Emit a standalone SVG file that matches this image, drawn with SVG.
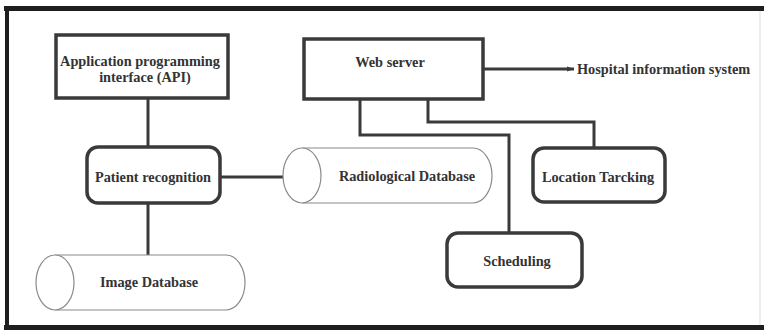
<svg xmlns="http://www.w3.org/2000/svg" width="764" height="330" viewBox="0 0 764 330">
  <defs>
    <style>
      .lbl { font-family: "Liberation Serif", "Times New Roman", serif; font-weight: bold; font-size: 14.3px; fill: #333; text-anchor: middle; }
      .box { fill: #fff; stroke: #3a3a3a; stroke-width: 3.5; }
      .rbox { fill: #fff; stroke: #3a3a3a; stroke-width: 3.5; }
      .cyl { fill: #fff; stroke: #8a8a8a; stroke-width: 1.2; }
      .wire { fill: none; stroke: #3a3a3a; stroke-width: 3; }
    </style>
    <marker id="arrowhead" markerWidth="8" markerHeight="6" refX="7" refY="3" orient="auto" markerUnits="userSpaceOnUse">
      <path d="M0,0.5 L7,3 L0,5.5 Z" fill="#3a3a3a"/>
    </marker>
  </defs>

  <!-- outer frame -->
  <rect x="0" y="0" width="764" height="330" fill="#fff"/>
  <line x1="4" y1="8.5" x2="764" y2="8.5" stroke="#1e1e1e" stroke-width="5"/>
  <line x1="7" y1="6" x2="7" y2="330" stroke="#1e1e1e" stroke-width="4"/>
  <line x1="4" y1="327.5" x2="764" y2="327.5" stroke="#1e1e1e" stroke-width="5"/>
  <line x1="760" y1="11" x2="760" y2="325" stroke="#e2e2e2" stroke-width="1.2"/>

  <!-- connectors -->
  <g id="connectors">
    <line class="wire" x1="148" y1="98" x2="148" y2="146"/>
    <line class="wire" x1="220" y1="177" x2="283" y2="177"/>
    <line class="wire" x1="148" y1="203" x2="148" y2="255"/>
    <polyline class="wire" points="360,99 360,135 509,135 509,233"/>
    <polyline class="wire" points="428,99 428,122 594,122 594,148"/>
    <line x1="483" y1="69" x2="574" y2="69" stroke="#3a3a3a" stroke-width="3" marker-end="url(#arrowhead)"/>
  </g>

  <g id="api">
    <rect class="box" x="56" y="35" width="172" height="63"/>
    <text class="lbl" x="140" y="66">Application programming</text>
    <text class="lbl" x="145" y="82">interface (API)</text>
  </g>

  <g id="patient-recognition">
    <rect class="rbox" x="87" y="147" width="133" height="56" rx="11" ry="11"/>
    <text class="lbl" x="153" y="182">Patient recognition</text>
  </g>

  <g id="radiological-db">
    <path class="cyl" d="M302,148 L473,148 A19,27.5 0 0 1 473,203 L302,203"/>
    <ellipse class="cyl" cx="302" cy="175.5" rx="19" ry="27.5"/>
    <text class="lbl" x="407" y="181">Radiological Database</text>
  </g>

  <g id="image-db">
    <path class="cyl" d="M55,255 L226,255 A19,27.5 0 0 1 226,310 L55,310"/>
    <ellipse class="cyl" cx="55" cy="282.5" rx="19" ry="27.5"/>
    <text class="lbl" x="149" y="287">Image Database</text>
  </g>

  <g id="web-server">
    <rect class="box" x="304" y="39" width="179" height="60"/>
    <text class="lbl" x="390" y="67">Web server</text>
  </g>

  <g id="hospital-info">
    <text class="lbl" x="577" y="74" style="text-anchor:start">Hospital information system</text>
  </g>

  <g id="location-tracking">
    <rect class="rbox" x="533" y="148" width="132" height="54" rx="11" ry="11"/>
    <text class="lbl" x="598" y="182">Location Tarcking</text>
  </g>

  <g id="scheduling">
    <rect class="rbox" x="447" y="233" width="135" height="54" rx="11" ry="11"/>
    <text class="lbl" x="517" y="266">Scheduling</text>
  </g>
</svg>
